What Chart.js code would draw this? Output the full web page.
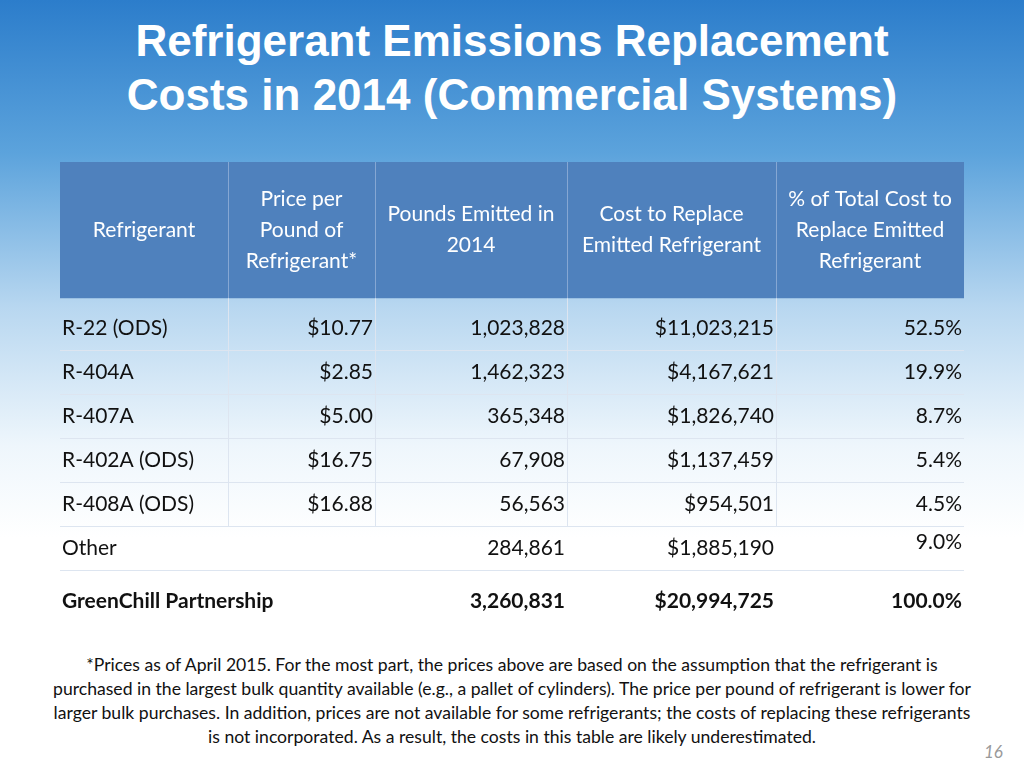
<!DOCTYPE html>
<html>
<head>
<meta charset="utf-8">
<script src="https://cdn.jsdelivr.net/npm/chart.js@4/dist/chart.umd.min.js"></script>
<style>
  body { margin: 0; width: 1024px; height: 768px; overflow: hidden;
    background: linear-gradient(180deg, #2c7dcb 0%, #5ca3dc 20%, #b8d7f0 40%, #eef6fc 58%, #ffffff 70%); font-family: Lato, sans-serif; position: relative; }
  h1 { position: absolute; top: 14px; left: 0; width: 1024px; margin: 0; text-align: center; color: #fff;
    font: bold 44px "Liberation Sans", Arial, sans-serif; line-height: 54px; }
  #wrap { position: absolute; left: 60px; top: 162px; width: 904px; height: 458px; }
  .note { position: absolute; top: 653px; left: 50px; width: 924px; text-align: center; font-size: 17.6px; line-height: 24px; color: #111; }
  .page { position: absolute; left: 984px; top: 741px; color: #999; font-style: italic; font-size: 17px; }
</style>
</head>
<body>
<h1>Refrigerant Emissions Replacement<br>Costs in 2014 (Commercial Systems)</h1>
<div id="wrap"><canvas id="myChart"></canvas></div>
<div class="note">*Prices as of April 2015. For the most part, the prices above are based on the assumption that the refrigerant is purchased in the largest bulk quantity available (e.g., a pallet of cylinders). The price per pound of refrigerant is lower for larger bulk purchases. In addition, prices are not available for some refrigerants; the costs of replacing these refrigerants is not incorporated. As a result, the costs in this table are likely underestimated.</div>
<div class="page">16</div>
<script>
var headers = [["Refrigerant"], ["Price per", "Pound of", "Refrigerant*"], ["Pounds Emitted in", "2014"], ["Cost to Replace", "Emitted Refrigerant"], ["% of Total Cost to", "Replace Emitted", "Refrigerant"]];
var refrigerants = ["R-22 (ODS)", "R-404A", "R-407A", "R-402A (ODS)", "R-408A (ODS)", "Other", "GreenChill Partnership"];
var prices = ["$10.77", "$2.85", "$5.00", "$16.75", "$16.88", "", ""];
var pounds = ["1,023,828", "1,462,323", "365,348", "67,908", "56,563", "284,861", "3,260,831"];
var costs = ["$11,023,215", "$4,167,621", "$1,826,740", "$1,137,459", "$954,501", "$1,885,190", "$20,994,725"];
var shares = ["52.5%", "19.9%", "8.7%", "5.4%", "4.5%", "9.0%", "100.0%"];

// column edges in table pixels, row centres in row units
var colEdges = [0, 168, 315, 507, 716, 904];
var rowPos = [2.23, 3.23, 4.23, 5.23, 6.23, 7.23, 8.43];

var tablePlugin = {
  id: "table",
  afterDraw: function (chart) {
    var ctx = chart.ctx, xs = chart.scales.x, ys = chart.scales.y;
    var X = function (v) { return xs.getPixelForValue(v); };
    var Y = function (v) { return ys.getPixelForValue(v); };
    ctx.save();
    // header
    ctx.fillStyle = "#4f81bd";
    ctx.fillRect(X(0), Y(-1.545), X(904) - X(0), Y(1.55) - Y(-1.545));
    ctx.strokeStyle = "#86a7d3"; ctx.lineWidth = 1;
    for (var i = 1; i < 5; i++) {
      ctx.beginPath(); ctx.moveTo(X(colEdges[i]) + 0.5, Y(-1.545)); ctx.lineTo(X(colEdges[i]) + 0.5, Y(1.55)); ctx.stroke();
    }
    ctx.fillStyle = "#fff"; ctx.font = "21px Lato"; ctx.textAlign = "center"; ctx.textBaseline = "middle";
    headers.forEach(function (lines, c) {
      var cx = (X(colEdges[c]) + X(colEdges[c + 1])) / 2;
      lines.forEach(function (t, k) {
        ctx.fillText(t, cx, Y(0) + (k - (lines.length - 1) / 2) * 31);
      });
    });
    // body grid
    ctx.strokeStyle = "#dde5f0";
    for (var r = 0; r < 6; r++) {
      var yl = Math.round(Y(rowPos[r] + 0.5)) + 0.5;
      ctx.beginPath(); ctx.moveTo(X(0), yl); ctx.lineTo(X(904), yl); ctx.stroke();
    }
    for (var i2 = 1; i2 < 5; i2++) {
      ctx.beginPath(); ctx.moveTo(X(colEdges[i2]) + 0.5, Y(1.55)); ctx.lineTo(X(colEdges[i2]) + 0.5, Y(6.73)); ctx.stroke();
    }
    var cols = [refrigerants, prices, pounds, costs, shares];
    ctx.fillStyle = "#111";
    for (var row = 0; row < refrigerants.length; row++) {
      var bold = row === refrigerants.length - 1;
      ctx.font = (bold ? "bold 21px" : "21px") + " Lato";
      cols.forEach(function (arr, c) {
        var y = Y(rowPos[row]);
        if (c === 4 && refrigerants[row] === "Other") y -= 6;
        if (c === 0) { ctx.textAlign = "left"; ctx.fillText(arr[row], X(0) + 2, y); }
        else { ctx.textAlign = "right"; ctx.fillText(arr[row], X(colEdges[c + 1]) - 2, y); }
      });
    }
    ctx.restore();
  }
};

new Chart("myChart", {
  type: "scatter",
  data: { datasets: [{ data: [] }] },
  options: {
    responsive: true, maintainAspectRatio: false, animation: false,
    layout: { padding: 0 },
    plugins: { legend: { display: false }, tooltip: { enabled: false } },
    scales: {
      x: { type: "linear", min: 0, max: 904, display: false },
      y: { type: "linear", min: -1.545, max: 8.86, reverse: true, display: false }
    }
  },
  plugins: [tablePlugin]
});
</script>
</body>
</html>
